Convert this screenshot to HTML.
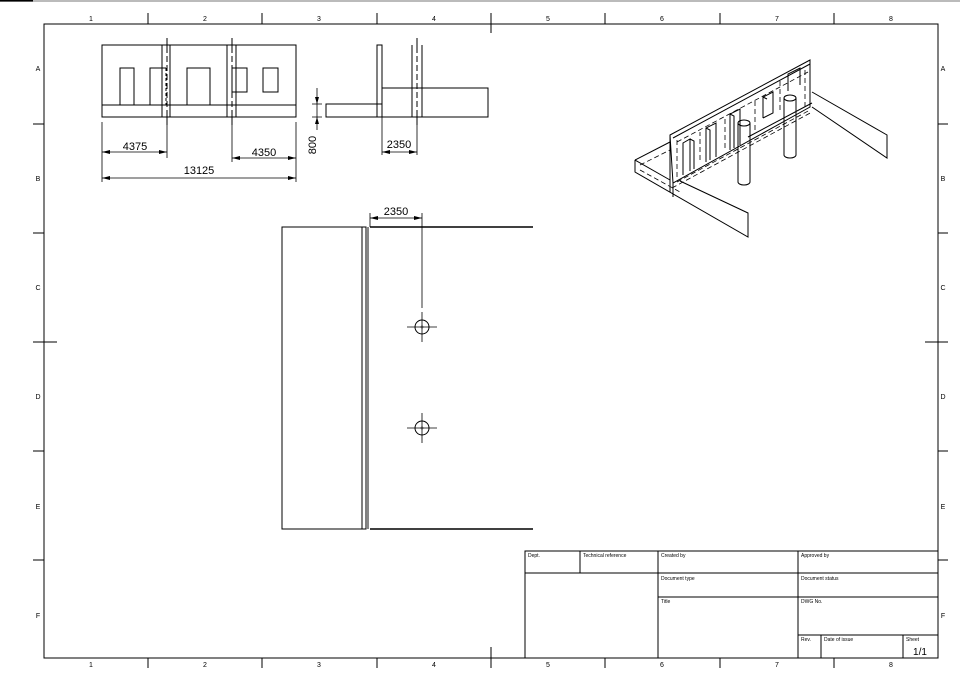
<!DOCTYPE html>
<html><head><meta charset="utf-8"><style>
html,body{margin:0;padding:0;background:#fff}
svg{display:block}
text{font-family:"Liberation Sans",sans-serif;fill:#000}
</style></head><body>
<svg width="960" height="678" viewBox="0 0 960 678" xmlns="http://www.w3.org/2000/svg">
<rect x="0" y="0" width="960" height="2" fill="#bbb"/>
<rect x="0" y="0" width="33" height="1.5" fill="#000"/>
<g stroke="#000" fill="none" stroke-width="1">
<rect x="44" y="24" width="894" height="634"/>
<path d="M148 13V24M262 13V24M377 13V24M491 13V33M605 13V24M720 13V24M834 13V24"/>
<path d="M148 658V668M262 658V668M377 658V668M491 647V668M605 658V668M720 658V668M834 658V668"/>
<path d="M33 124H44M33 233H44M33 342H57M33 451H44M33 560H44"/>
<path d="M938 124H948M938 233H948M925 342H948M938 451H948M938 560H948"/>
</g>
<g font-size="7" text-anchor="middle">
<text x="91" y="21">1</text><text x="205" y="21">2</text><text x="319" y="21">3</text><text x="434" y="21">4</text><text x="548" y="21">5</text><text x="662" y="21">6</text><text x="777" y="21">7</text><text x="891" y="21">8</text>
<text x="91" y="667">1</text><text x="205" y="667">2</text><text x="319" y="667">3</text><text x="434" y="667">4</text><text x="548" y="667">5</text><text x="662" y="667">6</text><text x="777" y="667">7</text><text x="891" y="667">8</text>
<text x="38" y="71">A</text><text x="38" y="181">B</text><text x="38" y="290">C</text><text x="38" y="399">D</text><text x="38" y="509">E</text><text x="38" y="618">F</text>
<text x="943" y="71">A</text><text x="943" y="181">B</text><text x="943" y="290">C</text><text x="943" y="399">D</text><text x="943" y="509">E</text><text x="943" y="618">F</text>
</g>

<!-- front view -->
<g stroke="#000" fill="none" stroke-width="1">
<rect x="102" y="45" width="194" height="72"/>
<path d="M102 105H296"/>
<path d="M162 45V117M170 45V117M227 45V117M236 45V117"/>
<path d="M167 38V47M167 115V125M232 38V47M232 115V125"/>
<path d="M167 47V115M232 47V115" stroke-dasharray="6,3"/>
<path d="M120 105V68H134V105M150 105V68H166"/>
<path d="M166 68V105" stroke-dasharray="3,2"/>
<rect x="187" y="68" width="23" height="37"/>
<rect x="232" y="68" width="15" height="24"/>
<rect x="263" y="68" width="15" height="24"/>
<path d="M102 122V182M167 122V158M232 122V162M296 122V182" stroke-width="0.8"/>
<path d="M102 152H167M232 158H296M102 178H296" stroke-width="0.8"/>
</g>
<g fill="#000">
<path d="M102 152l8-2v4zM167 152l-8-2v4zM232 158l8-2v4zM296 158l-8-2v4zM102 178l8-2v4zM296 178l-8-2v4z"/>
</g>
<g font-size="11" text-anchor="middle">
<text x="135" y="150">4375</text><text x="264" y="156">4350</text><text x="199" y="174">13125</text>
</g>

<!-- side view -->
<g stroke="#000" fill="none" stroke-width="1">
<rect x="377" y="45" width="5" height="72"/>
<rect x="326" y="104" width="56" height="13"/>
<rect x="382" y="88" width="106" height="29"/>
<path d="M412 45V117M422 45V117"/>
<path d="M417 38V47M417 115V125"/>
<path d="M417 47V115M382 88V117" stroke-dasharray="6,3"/>
<path d="M317 88V130M312 104H322M312 117H322" stroke-width="0.8"/>
<path d="M382 117V155M417 117V155M382 152H417" stroke-width="0.8"/>
</g>
<g fill="#000"><path d="M317 104l-2-7h4zM317 117l-2 7h4zM382 152l8-2v4zM417 152l-8-2v4z"/></g>
<text x="316" y="145" font-size="11" text-anchor="middle" transform="rotate(-90 316 145)">800</text>
<text x="399" y="148" font-size="11" text-anchor="middle">2350</text>

<!-- isometric -->
<g stroke="#000" fill="none" stroke-width="1">
<!-- back plate -->
<path d="M670 135L810 60V107L673 183Z"/>
<path d="M673 138L810 64"/>
<path d="M670 135V192"/>
<path d="M673 183V197"/>
<!-- left wall -->
<path d="M635 160L670 142M635 160V172L748 237V213L680 181"/>
<path d="M635 160L670 180"/>
<!-- right wall -->
<path d="M812 92L887 135V158L812 107"/>
<!-- windows -->
<path d="M683 175V143L690 139V171M690 139L694 141V169"/>
<path d="M706 162V128L716 123V157M706 128L710 130V160"/>
<path d="M730 150V114L740 109V145M730 114L734 116V148"/>
<path d="M763 118V97L773 92V113L763 118M763 97L767 99"/>
<path d="M788 91V74L800 68V85"/>
<!-- columns -->
<ellipse cx="744" cy="123" rx="6" ry="3"/><path d="M738 123V182M750 123V182"/><path d="M738 182a6 3 0 0 0 12 0"/>
<ellipse cx="790" cy="98" rx="6" ry="3"/><path d="M784 98V155M796 98V155"/><path d="M784 155a6 3 0 0 0 12 0"/>
<path d="M748 137L812 103"/>
</g>
<g stroke="#000" fill="none" stroke-width="0.8" stroke-dasharray="5,3">
<path d="M677 142L808 72M677 182L810 110M640 165L670 150M672 188L812 112M677 140V180M805 70V108M700 160V132M725 148V118M755 130V100M780 110V80M640 170L680 192"/>
</g>

<!-- plan view -->
<g stroke="#000" fill="none" stroke-width="1">
<rect x="282" y="227" width="80" height="302"/>
<rect x="362" y="227" width="4" height="302"/>
<path d="M368 227V529" stroke="#888" stroke-width="2"/>
<path d="M370 227H533M370 529H533" stroke-width="1.5"/>
<path d="M370 213V227M422 213V308M370 218H422" stroke-width="0.8"/>
<circle cx="422" cy="327" r="7"/><circle cx="422" cy="428" r="7"/>
<path d="M407 327H437M422 312V342M407 428H437M422 413V443" stroke-width="0.8"/>
<path d="M420 327H424M422 325V329M420 428H424M422 426V430" stroke-width="0.8"/>
</g>
<g fill="#000"><path d="M370 218l8-2v4zM422 218l-8-2v4z"/></g>
<text x="396" y="215" font-size="11" text-anchor="middle">2350</text>

<!-- title block -->
<g stroke="#000" fill="none" stroke-width="1">
<rect x="525" y="551" width="413" height="107"/>
<path d="M525 573H938M658 597H938M798 635H938M580 551V573M658 551V658M798 551V658M821 635V658M903 635V658"/>
</g>
<g font-size="5">
<text x="528" y="557">Dept.</text><text x="583" y="557">Technical reference</text><text x="661" y="557">Created by</text><text x="801" y="557">Approved by</text>
<text x="661" y="580">Document type</text><text x="801" y="580">Document status</text>
<text x="661" y="603">Title</text><text x="801" y="603">DWG No.</text>
<text x="801" y="641">Rev.</text><text x="824" y="641">Date of issue</text><text x="906" y="641">Sheet</text>
</g>
<text x="920" y="655" font-size="10" text-anchor="middle">1/1</text>
</svg>
</body></html>
